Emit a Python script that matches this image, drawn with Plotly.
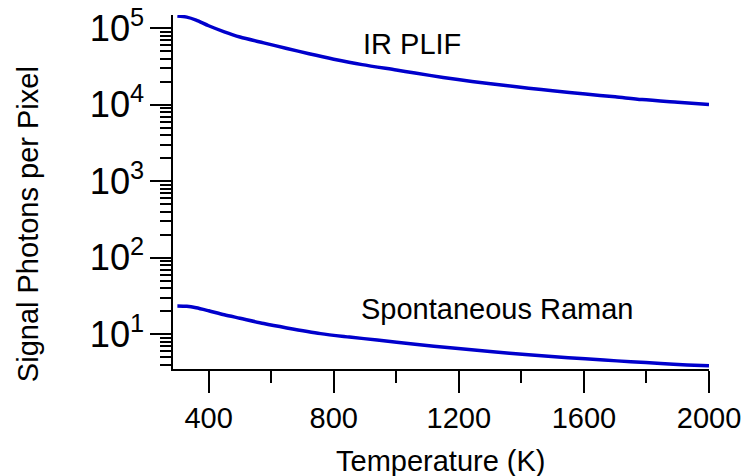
import plotly.graph_objects as go

# Data
temp_ir = [300, 330, 360, 400, 450, 500, 576, 650, 721, 800, 891, 1000, 1060, 1150,
           1242, 1350, 1423, 1500, 1605, 1700, 1786, 1900, 2000]
ir_plif = [1.45e5, 1.40e5, 1.28e5, 1.08e5, 9.0e4, 7.7e4, 6.45e4, 5.45e4, 4.65e4, 3.95e4,
           3.35e4, 2.85e4, 2.6e4, 2.28e4, 2.02e4, 1.79e4, 1.65e4, 1.53e4, 1.38e4,
           1.27e4, 1.17e4, 1.08e4, 1.01e4]

temp_raman = [300, 330, 360, 400, 450, 500, 576, 650, 758, 850, 939, 1060, 1181, 1300,
              1423, 1550, 1664, 1750, 1846, 1930, 2000]
raman = [23.5, 23.2, 22.2, 20.3, 18.0, 16.2, 13.8, 12.1, 10.2, 9.2, 8.4, 7.4, 6.6, 5.95,
         5.4, 4.95, 4.6, 4.38, 4.15, 3.98, 3.87]

x_ticks = [400, 800, 1200, 1600, 2000]
x_title = "Temperature (K)"
y_title = "Signal Photons per Pixel"
label_ir = "IR PLIF"
label_raman = "Spontaneous Raman"

FONT = "Liberation Sans, Arial, sans-serif"
BLUE = "#0000CC"
FS = 29

fig = go.Figure()
fig.add_trace(go.Scatter(x=temp_ir, y=ir_plif, mode="lines",
                         line=dict(color=BLUE, width=3.5, shape="spline", smoothing=0.8),
                         showlegend=False, hoverinfo="skip"))
fig.add_trace(go.Scatter(x=temp_raman, y=raman, mode="lines",
                         line=dict(color=BLUE, width=3.5, shape="spline", smoothing=0.8),
                         showlegend=False, hoverinfo="skip"))

fig.update_layout(
    width=743, height=476,
    margin=dict(l=173, r=34, t=15, b=107),
    paper_bgcolor="white", plot_bgcolor="white",
    font=dict(family=FONT, size=FS, color="black"),
)

fig.update_xaxes(
    range=[286, 2000], automargin=False,
    tickmode="array", tickvals=x_ticks, ticktext=[str(v) for v in x_ticks],
    ticks="outside", ticklen=22, tickwidth=2, tickcolor="black",
    showline=True, linewidth=2, linecolor="black",
    showgrid=False, zeroline=False,
    tickfont=dict(family=FONT, size=FS),
    minor=dict(ticks="outside", ticklen=12, tickwidth=2, tickcolor="black",
               tick0=0, dtick=200, showgrid=False),
)

fig.update_yaxes(
    type="log", range=[0.546, 5.174], automargin=False,
    dtick=1, exponentformat="power",
    labelalias={"10": "10<sup>1</sup>"},
    ticks="outside", ticklen=21, tickwidth=2, tickcolor="black",
    showline=True, linewidth=2, linecolor="black",
    showgrid=False, zeroline=False,
    tickfont=dict(family=FONT, size=FS),
    minor=dict(ticks="outside", ticklen=11, tickwidth=1.5, tickcolor="black",
               dtick="D1", showgrid=False),
)

fig.add_annotation(x=1050, y=4.79, xref="x", yref="y", text=label_ir,
                   showarrow=False, font=dict(family=FONT, size=FS, color="black"),
                   xanchor="center", yanchor="middle")
fig.add_annotation(x=1321, y=1.331, xref="x", yref="y", text=label_raman,
                   showarrow=False, font=dict(family=FONT, size=FS, color="black"),
                   xanchor="center", yanchor="middle")
fig.add_annotation(x=0.5, y=-0.26, xref="paper", yref="paper", text=x_title,
                   showarrow=False, font=dict(family=FONT, size=FS, color="black"),
                   xanchor="center", yanchor="middle")
fig.add_annotation(x=-0.27, y=0.41, xref="paper", yref="paper", text=y_title,
                   textangle=-90, showarrow=False,
                   font=dict(family=FONT, size=FS, color="black"),
                   xanchor="center", yanchor="middle")

fig.write_html("out.html")
